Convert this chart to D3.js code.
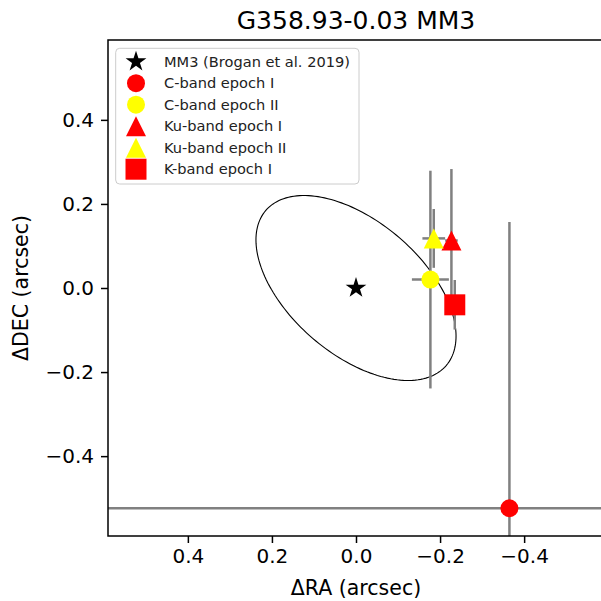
<!DOCTYPE html>
<html>
<head>
<meta charset="utf-8">
<script src="https://cdn.jsdelivr.net/npm/d3@7"></script>
<style>
  html, body { margin: 0; padding: 0; background: #fff; }
  svg { display: block; font-family: "DejaVu Sans", sans-serif; }
</style>
</head>
<body>
<svg id="chart" width="601" height="601"></svg>
<script>
// positional offsets of MM3 detections (arcsec)
const sources = [
  "MM3 (Brogan et al. 2019)",
  "C-band epoch I",
  "C-band epoch II",
  "Ku-band epoch I",
  "Ku-band epoch II",
  "K-band epoch I",
];
const markers = ["star", "circle", "circle", "triangle", "triangle", "square"];
const colors = ["black", "red", "yellow", "red", "yellow", "red"];
const ra = [0, -0.365, -0.177, -0.227, -0.185, -0.235];
const dec = [0, -0.524, 0.02, 0.113, 0.118, -0.04];
const raErr = [0, 1.0, 0.044, 0.015, 0.027, 0.015];
const decErr = [0, 0.681, 0.259, 0.17, 0.07, 0.059];

// uncertainty ellipse of MM3: semi-axes and angle (deg, RA towards DEC)
const ellipseAxes = [0.283, 0.158];
const ellipseAngle = 40.7;

const xTicks = [0.4, 0.2, 0.0, -0.2, -0.4];
const yTicks = [-0.4, -0.2, 0.0, 0.2, 0.4];
const xLim = [0.59, -0.59];
const yLim = [-0.59, 0.59];

const svg = d3.select("#chart");
const plotLeft = 108;
const plotTop = 40;
const plotSize = 496;

const x = d3.scaleLinear().domain(xLim).range([plotLeft, plotLeft + plotSize]);
const y = d3.scaleLinear().domain(yLim).range([plotTop + plotSize, plotTop]);
const fmt = d3.format(".1f");

svg.append("defs")
  .append("clipPath")
  .attr("id", "plot-clip")
  .append("rect")
  .attr("x", plotLeft)
  .attr("y", plotTop)
  .attr("width", plotSize)
  .attr("height", plotSize);

const plot = svg.append("g").attr("clip-path", "url(#plot-clip)");

// ellipse
const [ea, eb] = ellipseAxes;
const phi = (ellipseAngle * Math.PI) / 180;
const ellipsePts = d3.range(0, 361, 2).map((deg) => {
  const t = (deg * Math.PI) / 180;
  const u = ea * Math.cos(t);
  const v = eb * Math.sin(t);
  return [u * Math.cos(phi) - v * Math.sin(phi), u * Math.sin(phi) + v * Math.cos(phi)];
});

plot.append("path")
  .attr("d", d3.line().x((d) => x(d[0])).y((d) => y(d[1]))(ellipsePts))
  .attr("fill", "none")
  .attr("stroke", "black")
  .attr("stroke-width", 1.1);

function markerPath(kind) {
  if (kind === "circle") {
    const r = 9;
    return `M${-r},0A${r},${r} 0 1,0 ${r},0A${r},${r} 0 1,0 ${-r},0Z`;
  }
  if (kind === "square") {
    const h = 10.5;
    return `M${-h},${-h}H${h}V${h}H${-h}Z`;
  }
  if (kind === "triangle") {
    const h = 10;
    return `M0,${-h}L${h},${h}L${-h},${h}Z`;
  }
  const outer = 10.9;
  const inner = outer * 0.381966;
  const pts = d3.range(10).map((i) => {
    const r = i % 2 === 0 ? outer : inner;
    const a = -Math.PI / 2 + (i * Math.PI) / 5;
    return [r * Math.cos(a), r * Math.sin(a)];
  });
  return "M" + pts.map((p) => p.join(",")).join("L") + "Z";
}

sources.forEach((name, i) => {
  const g = plot.append("g");

  if (raErr[i] > 0) {
    g.append("line")
      .attr("x1", x(ra[i] - raErr[i]))
      .attr("x2", x(ra[i] + raErr[i]))
      .attr("y1", y(dec[i]))
      .attr("y2", y(dec[i]))
      .attr("stroke", "#808080")
      .attr("stroke-width", 2.5);
  }

  if (decErr[i] > 0) {
    g.append("line")
      .attr("x1", x(ra[i]))
      .attr("x2", x(ra[i]))
      .attr("y1", y(dec[i] - decErr[i]))
      .attr("y2", y(dec[i] + decErr[i]))
      .attr("stroke", "#808080")
      .attr("stroke-width", 2.5);
  }

  g.append("path")
    .attr("d", markerPath(markers[i]))
    .attr("transform", `translate(${x(ra[i])},${y(dec[i])})`)
    .attr("fill", colors[i]);
});

// axes
const xAxis = svg.append("g")
  .attr("transform", `translate(0,${plotTop + plotSize})`)
  .call(d3.axisBottom(x).tickValues(xTicks).tickFormat(fmt).tickSize(7).tickPadding(6).tickSizeOuter(0));

const yAxis = svg.append("g")
  .attr("transform", `translate(${plotLeft},0)`)
  .call(d3.axisLeft(y).tickValues(yTicks).tickFormat(fmt).tickSize(7).tickPadding(7).tickSizeOuter(0));

[xAxis, yAxis].forEach((axis) => {
  axis.select(".domain").remove();
  axis.selectAll(".tick line").attr("stroke", "black").attr("stroke-width", 1.5);
  axis.selectAll(".tick text")
    .attr("fill", "black")
    .style("font-size", "20px")
    .style("font-family", "DejaVu Sans");
});

svg.append("rect")
  .attr("x", plotLeft)
  .attr("y", plotTop)
  .attr("width", plotSize)
  .attr("height", plotSize)
  .attr("fill", "none")
  .attr("stroke", "black")
  .attr("stroke-width", 1.5);

svg.append("text")
  .attr("x", plotLeft + plotSize / 2)
  .attr("y", 595)
  .attr("text-anchor", "middle")
  .style("font-size", "20.5px")
  .text("ΔRA (arcsec)");

svg.append("text")
  .attr("transform", `translate(28,${plotTop + plotSize / 2}) rotate(-90)`)
  .attr("text-anchor", "middle")
  .style("font-size", "20.5px")
  .text("ΔDEC (arcsec)");

svg.append("text")
  .attr("x", plotLeft + plotSize / 2)
  .attr("y", 29)
  .attr("text-anchor", "middle")
  .style("font-size", "25px")
  .text("G358.93-0.03 MM3");

// legend
const legend = svg.append("g");

legend.append("rect")
  .attr("x", 115.7)
  .attr("y", 48.3)
  .attr("width", 243.3)
  .attr("height", 135.7)
  .attr("rx", 4)
  .attr("fill", "white")
  .attr("fill-opacity", 0.8)
  .attr("stroke", "#cccccc")
  .attr("stroke-width", 1);

sources.forEach((name, i) => {
  const cy = 61.7 + i * 21.5;

  legend.append("path")
    .attr("d", markerPath(markers[i]))
    .attr("transform", `translate(136,${cy})`)
    .attr("fill", colors[i]);

  legend.append("text")
    .attr("x", 164)
    .attr("y", cy)
    .attr("dy", "0.36em")
    .style("font-size", "14.6px")
    .attr("fill", "#222")
    .text(name);
});
</script>
</body>
</html>
